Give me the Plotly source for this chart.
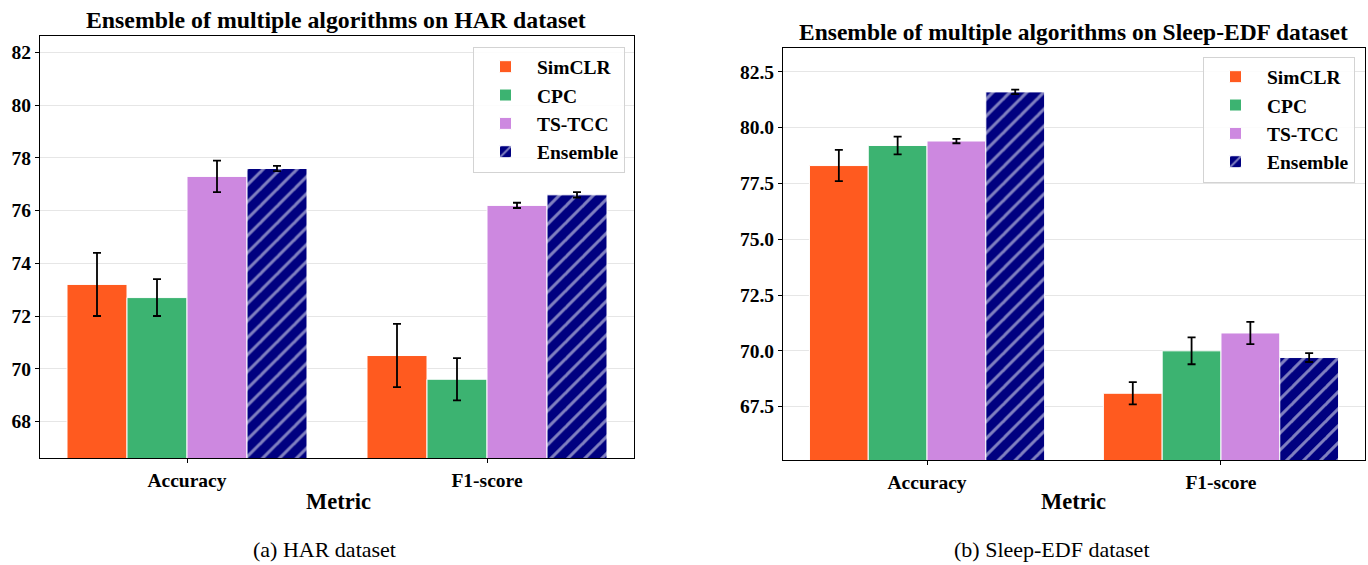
import plotly.graph_objects as go

metrics = ["Accuracy", "F1-score"]
methods = ["SimCLR", "CPC", "TS-TCC", "Ensemble"]

har_mean = {
    "SimCLR": [73.2, 70.5],
    "CPC": [72.7, 69.6],
    "TS-TCC": [77.3, 76.2],
    "Ensemble": [77.6, 76.6],
}
har_err = {
    "SimCLR": [1.2, 1.2],
    "CPC": [0.7, 0.8],
    "TS-TCC": [0.6, 0.1],
    "Ensemble": [0.1, 0.1],
}
sleep_mean = {
    "SimCLR": [78.3, 68.1],
    "CPC": [79.2, 70.0],
    "TS-TCC": [79.4, 70.8],
    "Ensemble": [81.6, 69.7],
}
sleep_err = {
    "SimCLR": [0.7, 0.5],
    "CPC": [0.4, 0.6],
    "TS-TCC": [0.1, 0.5],
    "Ensemble": [0.1, 0.2],
}
har_ticks = [68, 70, 72, 74, 76, 78, 80, 82]
sleep_ticks = [67.5, 70.0, 72.5, 75.0, 77.5, 80.0, 82.5]

colors = {"SimCLR": "#FF5A1F", "CPC": "#3CB371", "TS-TCC": "#CD88E0", "Ensemble": "#000080"}

SERIF = "Liberation Serif"
W, H = 1368, 565

fig = go.Figure()

def add_panel(means, errs, xa, ya, legend):
    for m in methods:
        kw = {}
        if m == "Ensemble":
            kw["pattern"] = dict(shape="/", fgcolor="white", bgcolor=colors[m], size=12, solidity=0.25)
        fig.add_trace(go.Bar(
            x=metrics, y=means[m], name=m,
            marker=dict(color=colors[m], line=dict(color="white", width=1), **kw),
            error_y=dict(type="data", array=errs[m], visible=True, color="black",
                         thickness=1.8, width=4),
            xaxis=xa, yaxis=ya, legend=legend,
        ))

add_panel(har_mean, har_err, "x", "y", "legend")
add_panel(sleep_mean, sleep_err, "x2", "y2", "legend2")

axis_common = dict(showline=True, linecolor="black", linewidth=1.2, mirror=True,
                   ticks="outside", ticklen=4, tickcolor="black",
                   tickfont=dict(family=SERIF, size=19.5, color="black", weight="bold"))

legend_common = dict(xanchor="right", yanchor="top",
                     bgcolor="rgba(255,255,255,0.85)", bordercolor="#D3D3D3", borderwidth=1,
                     font=dict(family=SERIF, size=19.5, color="black", weight="bold"),
                     tracegroupgap=0, itemwidth=53)

fig.update_layout(
    width=W, height=H,
    margin=dict(l=0, r=0, t=0, b=0),
    paper_bgcolor="white", plot_bgcolor="white",
    barmode="group", bargap=0.2, bargroupgap=0.0,
    xaxis=dict(domain=[40 / W, 634 / W], anchor="y", range=[-0.49, 1.49],
               showgrid=False, **axis_common),
    yaxis=dict(domain=[1 - 458 / H, 1 - 36 / H], anchor="x", range=[66.61, 82.63],
               tickvals=har_ticks, ticktext=[str(t) for t in har_ticks],
               showgrid=True, gridcolor="#E6E6E6", gridwidth=1, **axis_common),
    xaxis2=dict(domain=[783 / W, 1365 / W], anchor="y2", range=[-0.49, 1.49],
                showgrid=False, **axis_common),
    yaxis2=dict(domain=[1 - 460 / H, 1 - 47.7 / H], anchor="x2", range=[65.11, 83.58],
                tickvals=sleep_ticks, ticktext=[f"{t:.1f}" for t in sleep_ticks],
                showgrid=True, gridcolor="#E6E6E6", gridwidth=1, **axis_common),
    legend=dict(x=625 / W, y=1 - 46.5 / H, **legend_common),
    legend2=dict(x=1355 / W, y=1 - 56.5 / H, **legend_common),
    showlegend=True,
)

def txt(x, y, s, size, bold=True):
    fig.add_annotation(x=x / W, y=1 - y / H, xref="paper", yref="paper",
                       text=f"<b>{s}</b>" if bold else s, showarrow=False,
                       font=dict(family=SERIF, size=size, color="black"),
                       xanchor="center", yanchor="middle")

txt(336, 20, "Ensemble of multiple algorithms on HAR dataset", 23.8)
txt(1073, 32, "Ensemble of multiple algorithms on Sleep-EDF dataset", 23.5)
txt(338, 501, "Metric", 22.5)
txt(1073, 501, "Metric", 22.5)
txt(324, 549, "(a) HAR dataset", 22, bold=False)
txt(1052, 549, "(b) Sleep-EDF dataset", 22, bold=False)

fig.write_html("out.html", config={"displayModeBar": False},
               post_script="document.body.style.margin='0px';document.body.style.padding='0px';")
